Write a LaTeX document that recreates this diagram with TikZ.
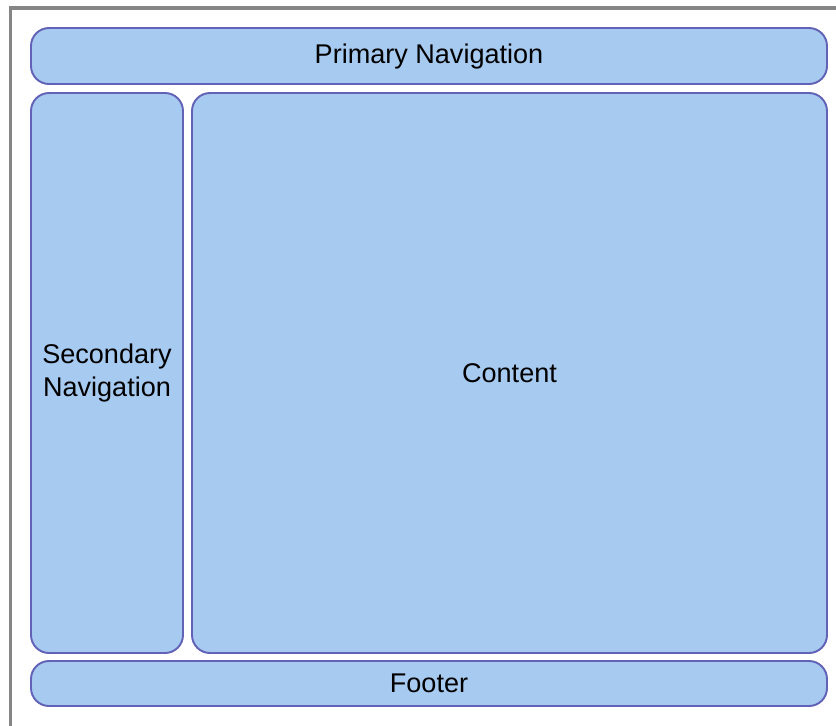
\documentclass[tikz,border=0pt]{standalone}
\usepackage{fontspec}
\setmainfont{Liberation Sans}
\definecolor{panelfill}{HTML}{A6CAF0}
\definecolor{panelline}{HTML}{6262B6}
\definecolor{framegray}{HTML}{858585}
\tikzset{
  panel/.style={draw=panelline, fill=panelfill, line width=1.1pt,
    rounded corners=0.36cm, inner sep=0pt, align=center,
    font=\fontsize{15.4}{18.6}\selectfont}
}
\begin{document}
\begin{tikzpicture}[x=0.02cm,y=-0.02cm]
        \useasboundingbox (0,0) rectangle (836,725);
        \clip (0,0) rectangle (836,725);
        \draw[framegray, line width=2.2pt] (10.5,8) rectangle (860,760);
        \node[panel, minimum width=796*0.02cm, minimum height=56*0.02cm] (primary) at (429,56) {Primary Navigation};
        \node[panel, minimum width=152*0.02cm, minimum height=560*0.02cm] (secondary) at (107,373) {Secondary\\Navigation};
        \node[panel, minimum width=635*0.02cm, minimum height=560*0.02cm] (content) at (509.5,373) {Content};
        \node[panel, minimum width=796*0.02cm, minimum height=45*0.02cm] (footer) at (429,683.5) {Footer};
\end{tikzpicture}
\end{document}
